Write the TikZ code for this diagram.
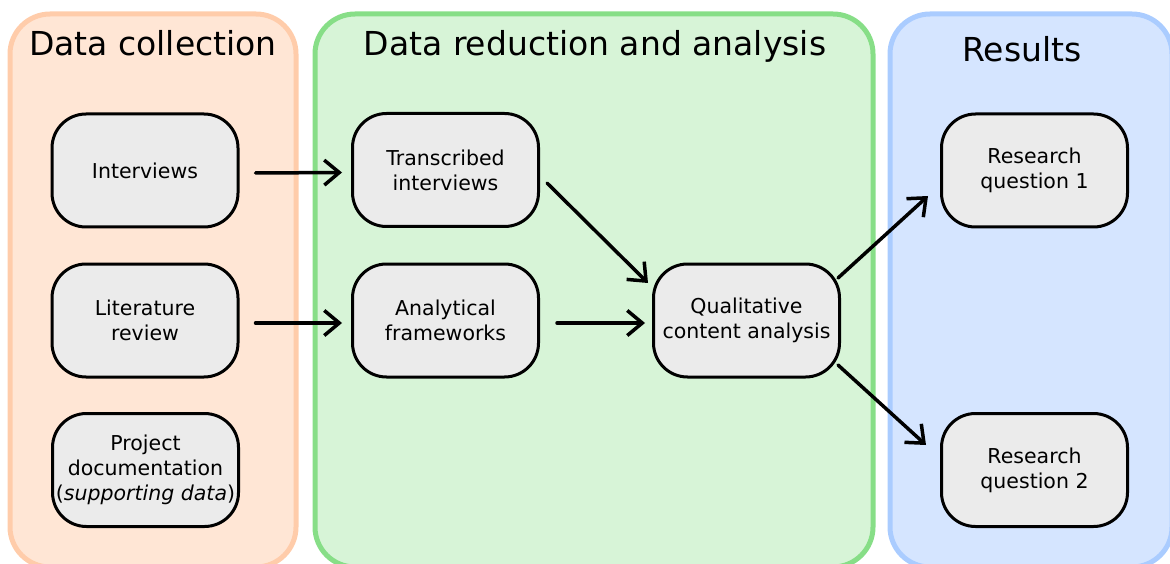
\documentclass[tikz,border=0pt]{standalone}
\usepackage{fontspec}
\setmainfont{DejaVu Sans}
\usetikzlibrary{arrows.meta}

\definecolor{orfill}{HTML}{FFE6D5}
\definecolor{ordraw}{HTML}{FFCCAA}
\definecolor{grfill}{HTML}{D7F4D7}
\definecolor{grdraw}{HTML}{87DE87}
\definecolor{blfill}{HTML}{D5E5FF}
\definecolor{bldraw}{HTML}{AACCFF}
\definecolor{boxfill}{HTML}{EBEBEB}

\tikzset{
  panel/.style={line width=5pt, rounded corners=40pt},
  paneltitle/.style={anchor=base, font=\fontsize{33}{40}\selectfont},
  stage/.style={draw=black, fill=boxfill, line width=3pt, rounded corners=34pt,
    minimum width=186pt, minimum height=113pt, inner sep=0pt, align=center,
    font=\fontsize{20.5}{25}\selectfont},
  flow/.style={line width=3.5pt, line cap=round, line join=round,
    -{Straight Barb[length=15pt,width=25pt]}}
}

\begin{document}
\begin{tikzpicture}[x=1pt, y=-1pt]
  \useasboundingbox (0,0) rectangle (1170,564);

  % phase panels
  \draw[panel, draw=ordraw, fill=orfill] (10,14) rectangle (296,567);
  \draw[panel, draw=grdraw, fill=grfill] (315,14) rectangle (873,567);
  \draw[panel, draw=bldraw, fill=blfill] (890,14) rectangle (1172,567);

  \node[paneltitle] (t1) at (153,56) {Data collection};
  \node[paneltitle] (t2) at (595,56) {Data reduction and analysis};
  \node[paneltitle] (t3) at (1022,62) {Results};

  % stages
  \node[stage] (int) at (145,170.5) {Interviews};
  \node[stage] (lit) at (145,320.5) {Literature\\review};
  \node[stage] (doc) at (145.5,470) {Project\\documentation\\(\textit{supporting data})};
  \node[stage] (tra) at (445.5,170) {Transcribed\\interviews};
  \node[stage] (ana) at (445.5,320.5) {Analytical\\frameworks};
  \node[stage] (qca) at (746.5,320.5) {Qualitative\\content analysis};
  \node[stage] (rq1) at (1034.5,170.5) {Research\\question 1};
  \node[stage] (rq2) at (1034.5,470) {Research\\question 2};

  % connectors
  \draw[flow] ([shift={(16,2.5)}]int.east) -- ([shift={(-9,2.5)}]tra.west);
  \draw[flow] ([shift={(16,2.5)}]lit.east) -- ([shift={(-9,2.5)}]ana.west);
  \draw[flow] ([shift={(7,13)}]tra.east) -- ([shift={(-4,-37.5)}]qca.west);
  \draw[flow] ([shift={(17,2.5)}]ana.east) -- ([shift={(-7,2.5)}]qca.west);
  \draw[flow] ([shift={(-3,-42.5)}]qca.east) -- ([shift={(-12,25.5)}]rq1.west);
  \draw[flow] ([shift={(-3,44.5)}]qca.east) -- ([shift={(-14,-25)}]rq2.west);
\end{tikzpicture}
\end{document}
